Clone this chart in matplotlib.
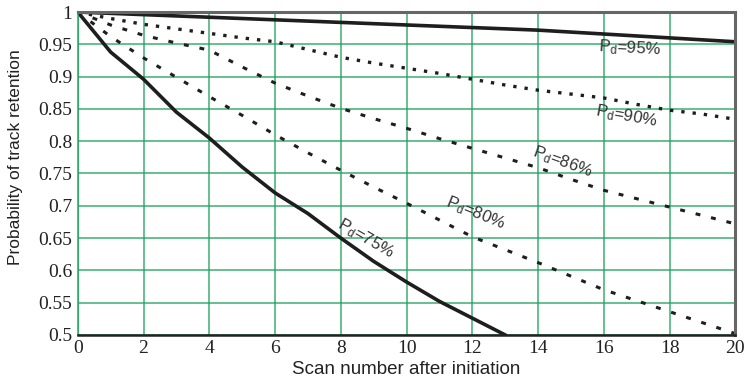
import matplotlib
matplotlib.use("Agg")
import matplotlib.pyplot as plt
import numpy as np

plt.rcParams["mathtext.fontset"] = "custom"
plt.rcParams["mathtext.rm"] = "Liberation Sans"
plt.rcParams["mathtext.it"] = "Liberation Sans:italic"

# Scan numbers after track initiation
scans = [0, 1, 2, 3, 4, 5, 6, 7, 8, 9, 10, 11, 12, 13, 14, 15, 16, 17, 18, 19, 20]

# Probability of track retention for each detection probability
p95 = [1.0, 0.998, 0.996, 0.994, 0.992, 0.990, 0.988, 0.986, 0.984, 0.982, 0.980,
       0.978, 0.976, 0.974, 0.972, 0.969, 0.966, 0.963, 0.960, 0.957, 0.954]
p90 = [1.0, 0.990, 0.981, 0.974, 0.967, 0.960, 0.954, 0.942, 0.930, 0.921, 0.913,
       0.905, 0.896, 0.887, 0.879, 0.873, 0.867, 0.857, 0.848, 0.842, 0.834]
p86 = [1.0, 0.980, 0.964, 0.952, 0.941, 0.915, 0.890, 0.870, 0.851, 0.835, 0.820,
       0.804, 0.789, 0.774, 0.759, 0.741, 0.724, 0.711, 0.698, 0.685, 0.672]
p80 = [1.0, 0.962, 0.929, 0.899, 0.869, 0.840, 0.810, 0.782, 0.755, 0.729, 0.704,
       0.678, 0.652, 0.632, 0.612, 0.591, 0.570, 0.553, 0.536, 0.519, 0.502]
p75_scans = [0, 1, 2, 3, 4, 5, 6, 7, 8, 9, 10, 11, 12, 13]
p75 = [1.0, 0.938, 0.896, 0.845, 0.805, 0.760, 0.720, 0.688, 0.650, 0.614, 0.582,
       0.552, 0.526, 0.500]

x_ticks = [0, 2, 4, 6, 8, 10, 12, 14, 16, 18, 20]
y_ticks = [0.5, 0.55, 0.6, 0.65, 0.7, 0.75, 0.8, 0.85, 0.9, 0.95, 1.0]
y_ticklabels = ["0.5", "0.55", "0.6", "0.65", "0.7", "0.75", "0.8", "0.85", "0.9", "0.95", "1"]

fig = plt.figure(figsize=(7.48, 3.89), dpi=100)
ax = fig.add_axes([0.104, 0.139, 0.879, 0.830])

grid_color = "#1aa05a"
ax.set_xlim(0, 20)
ax.set_ylim(0.5, 1.0)
ax.set_xticks(x_ticks, labels=[str(t) for t in x_ticks])
ax.set_yticks(y_ticks, labels=y_ticklabels)
for lab in ax.get_xticklabels() + ax.get_yticklabels():
    lab.set_fontfamily("Liberation Serif")
    lab.set_fontsize(14)
    lab.set_color("#222222")
ax.tick_params(length=0, pad=4)
ax.grid(True, color=grid_color, linewidth=1.1, alpha=0.85)
ax.set_axisbelow(True)

ink = "#1e1e1e"
ax.plot(scans, p95, color=ink, linewidth=2.6, solid_capstyle="butt")
ax.plot(scans, p90, color=ink, linewidth=2.4, linestyle=(0, (1.0, 2.4)))
ax.plot(scans, p86, color=ink, linewidth=2.2, linestyle=(0, (1.6, 3.6)))
ax.plot(scans, p80, color=ink, linewidth=2.2, linestyle=(0, (1.6, 3.6)))
ax.plot(p75_scans, p75, color=ink, linewidth=2.6)

for side in ("top", "right"):
    ax.spines[side].set_color("#666666")
    ax.spines[side].set_linewidth(2.2)
ax.spines["bottom"].set_color("#222222")
ax.spines["bottom"].set_linewidth(1.8)
ax.spines["left"].set_color(grid_color)
ax.spines["left"].set_linewidth(1.5)
ax.spines["left"].set_alpha(0.7)

ax.set_xlabel("Scan number after initiation", family="Liberation Sans", fontsize=13.5,
              color="#222222")
ax.set_ylabel("Probability of track retention", family="Liberation Sans", fontsize=12.5,
              color="#222222")
ax.xaxis.set_label_coords(0.5, -0.08)
ax.yaxis.set_label_coords(-0.083, 0.55)

label_kw = dict(family="Liberation Sans", fontsize=12, color="#333333",
                ha="center", va="center", rotation_mode="anchor")
pd = r"P$_{\mathregular{d}}$"
ax.text(16.8, 0.944, pd + "=95%", rotation=-3, **label_kw)
ax.text(16.7, 0.838, pd + "=90%", rotation=-10, **label_kw)
ax.text(14.75, 0.768, pd + "=86%", rotation=-20, **label_kw)
ax.text(12.1, 0.688, pd + "=80%", rotation=-22, **label_kw)
ax.text(8.75, 0.650, pd + "=75%", rotation=-30, **label_kw)

fig.savefig("out.png", dpi=100)
